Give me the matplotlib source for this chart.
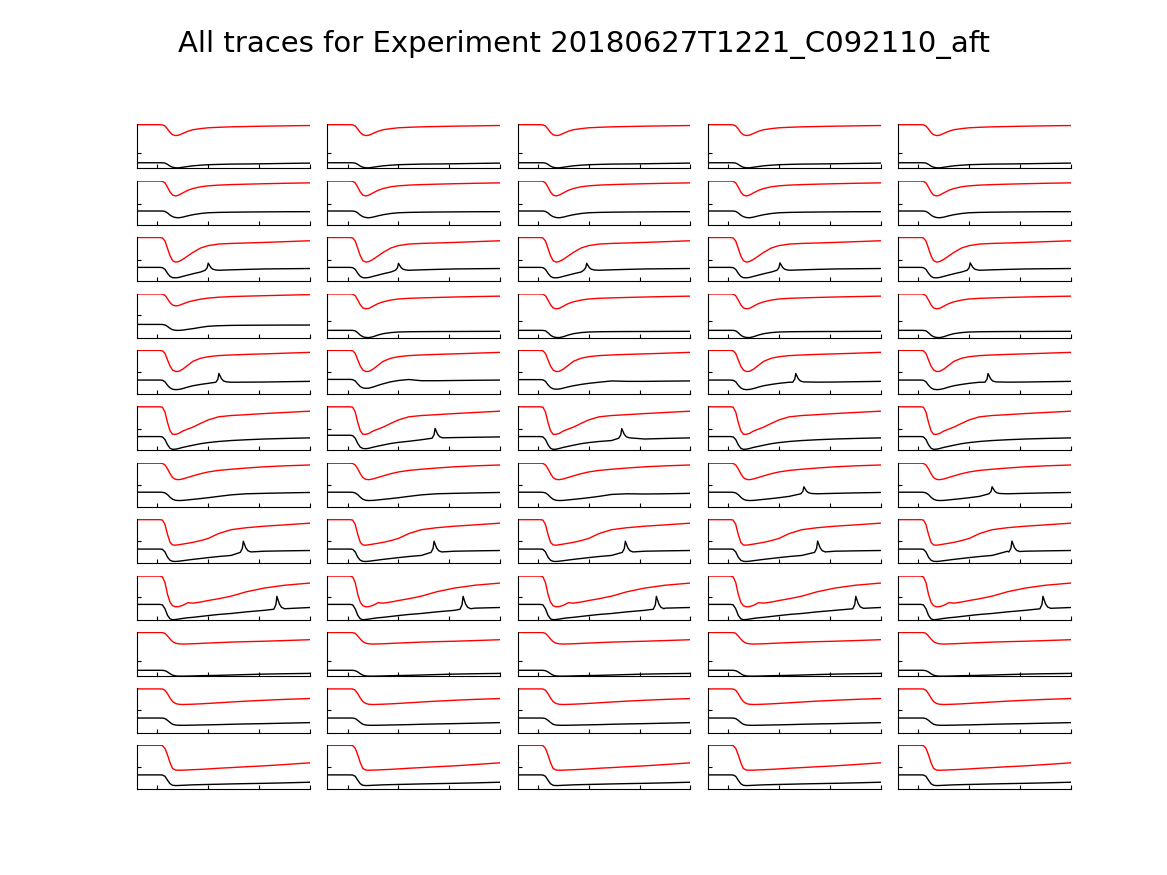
import matplotlib
matplotlib.use("Agg")
import matplotlib.pyplot as plt

TITLE = "All traces for Experiment 20180627T1221_C092110_aft"

# time axis (ms) shared by every base trace
X_MS = [-40, 5, 10, 15, 20, 25, 30, 36, 42, 50, 60, 70, 85, 100, 120, 145, 175, 210, 250, 300]

# per row: red (fluorescence) and black (second channel), normalised to the panel
RED = [
    [1.0, 1.0, 0.995, 0.97, 0.90, 0.82, 0.77, 0.75, 0.76, 0.80, 0.85, 0.885, 0.91, 0.929, 0.94, 0.951, 0.958, 0.966, 0.973, 0.981],
    [1.0, 1.0, 0.995, 0.96, 0.86, 0.75, 0.68, 0.66, 0.68, 0.73, 0.79, 0.83, 0.87, 0.892, 0.908, 0.92, 0.93, 0.94, 0.95, 0.96],
    [1.0, 1.0, 0.99, 0.92, 0.75, 0.58, 0.47, 0.436, 0.45, 0.50, 0.58, 0.66, 0.76, 0.815, 0.85, 0.865, 0.875, 0.888, 0.905, 0.926],
    [1.0, 1.0, 0.995, 0.97, 0.89, 0.80, 0.745, 0.727, 0.735, 0.77, 0.815, 0.845, 0.88, 0.905, 0.925, 0.94, 0.95, 0.96, 0.972, 0.985],
    [1.0, 1.0, 0.99, 0.93, 0.78, 0.64, 0.55, 0.515, 0.52, 0.57, 0.66, 0.75, 0.82, 0.855, 0.88, 0.895, 0.908, 0.92, 0.935, 0.955],
    [1.0, 1.0, 0.99, 0.88, 0.64, 0.45, 0.37, 0.37, 0.39, 0.445, 0.49, 0.535, 0.62, 0.70, 0.77, 0.80, 0.82, 0.845, 0.87, 0.90],
    [1.0, 1.0, 0.995, 0.96, 0.87, 0.76, 0.67, 0.63, 0.623, 0.64, 0.675, 0.71, 0.76, 0.80, 0.835, 0.862, 0.89, 0.918, 0.94, 0.96],
    [1.0, 1.0, 0.99, 0.89, 0.66, 0.48, 0.42, 0.415, 0.425, 0.44, 0.46, 0.48, 0.52, 0.57, 0.68, 0.77, 0.815, 0.85, 0.88, 0.92],
    [1.0, 1.0, 0.98, 0.85, 0.58, 0.40, 0.32, 0.296, 0.30, 0.33, 0.39, 0.38, 0.405, 0.44, 0.48, 0.54, 0.64, 0.725, 0.79, 0.84],
    [1.0, 1.0, 0.998, 0.98, 0.92, 0.85, 0.79, 0.755, 0.74, 0.735, 0.738, 0.742, 0.75, 0.758, 0.768, 0.78, 0.79, 0.80, 0.815, 0.835],
    [1.0, 1.0, 0.998, 0.97, 0.89, 0.79, 0.71, 0.665, 0.648, 0.643, 0.646, 0.65, 0.658, 0.668, 0.682, 0.70, 0.72, 0.74, 0.76, 0.78],
    [1.0, 1.0, 0.995, 0.93, 0.78, 0.60, 0.47, 0.432, 0.43, 0.432, 0.437, 0.442, 0.45, 0.46, 0.475, 0.49, 0.51, 0.53, 0.56, 0.60],
]
BLACK = [
    [0.128, 0.128, 0.127, 0.12, 0.09, 0.05, 0.025, 0.012, 0.012, 0.025, 0.042, 0.058, 0.072, 0.083, 0.09, 0.097, 0.10, 0.105, 0.112, 0.12],
    [0.315, 0.315, 0.314, 0.305, 0.27, 0.22, 0.185, 0.165, 0.16, 0.175, 0.205, 0.23, 0.258, 0.275, 0.283, 0.288, 0.292, 0.295, 0.298, 0.30],
    [0.316, 0.316, 0.31, 0.27, 0.18, 0.11, 0.08, 0.077, 0.085, 0.11, 0.14, 0.17, 0.21, 0.245, 0.25, 0.26, 0.27, 0.28, 0.285, 0.29],
    [0.302, 0.302, 0.30, 0.29, 0.255, 0.21, 0.18, 0.167, 0.165, 0.172, 0.19, 0.205, 0.235, 0.26, 0.272, 0.28, 0.283, 0.285, 0.287, 0.288],
    [0.32, 0.32, 0.315, 0.28, 0.20, 0.14, 0.11, 0.10, 0.105, 0.125, 0.16, 0.19, 0.22, 0.245, 0.27, 0.27, 0.272, 0.275, 0.282, 0.29],
    [0.318, 0.318, 0.31, 0.25, 0.13, 0.05, 0.025, 0.03, 0.045, 0.07, 0.095, 0.12, 0.155, 0.18, 0.205, 0.227, 0.245, 0.262, 0.275, 0.288],
    [0.336, 0.336, 0.333, 0.32, 0.28, 0.22, 0.175, 0.15, 0.145, 0.148, 0.16, 0.172, 0.19, 0.21, 0.24, 0.275, 0.30, 0.31, 0.32, 0.33],
    [0.326, 0.326, 0.32, 0.26, 0.14, 0.07, 0.045, 0.042, 0.048, 0.06, 0.075, 0.09, 0.11, 0.13, 0.155, 0.18, 0.275, 0.277, 0.285, 0.293],
    [0.351, 0.351, 0.34, 0.25, 0.10, 0.02, 0.0, 0.005, 0.015, 0.03, 0.045, 0.055, 0.075, 0.095, 0.12, 0.143, 0.18, 0.215, 0.265, 0.28],
    [0.134, 0.134, 0.133, 0.125, 0.095, 0.055, 0.022, 0.005, 0.0, 0.0, 0.002, 0.005, 0.01, 0.013, 0.018, 0.026, 0.036, 0.047, 0.055, 0.063],
    [0.333, 0.333, 0.332, 0.32, 0.28, 0.23, 0.19, 0.172, 0.167, 0.166, 0.168, 0.17, 0.174, 0.177, 0.182, 0.19, 0.198, 0.205, 0.215, 0.228],
    [0.323, 0.323, 0.32, 0.29, 0.20, 0.12, 0.085, 0.078, 0.08, 0.085, 0.09, 0.095, 0.10, 0.104, 0.109, 0.116, 0.123, 0.13, 0.14, 0.155],
]
Y_TICK = [0.35, 0.485, 0.49, 0.507, 0.511, 0.50, 0.50, 0.50, 0.52, 0.355, 0.507, 0.50]

# panels that differ from the row default: (row, col) -> trace
RED_ALT = {
    (3, 1): [1.0, 1.0, 0.995, 0.96, 0.86, 0.75, 0.68, 0.66, 0.67, 0.72, 0.78, 0.82, 0.86, 0.885, 0.90, 0.91, 0.92, 0.93, 0.94, 0.95],
}
BLACK_ALT = {
    (3, 1): [0.166, 0.166, 0.165, 0.155, 0.11, 0.055, 0.02, 0.003, 0.0, 0.02, 0.06, 0.09, 0.115, 0.128, 0.134, 0.137, 0.139, 0.14, 0.142, 0.144],
    (4, 1): [0.335, 0.335, 0.33, 0.30, 0.23, 0.17, 0.14, 0.13, 0.135, 0.16, 0.20, 0.235, 0.28, 0.31, 0.333, 0.305, 0.305, 0.31, 0.315, 0.32],
    (4, 2): [0.33, 0.33, 0.325, 0.29, 0.21, 0.15, 0.12, 0.11, 0.115, 0.135, 0.165, 0.19, 0.22, 0.245, 0.27, 0.30, 0.29, 0.29, 0.295, 0.30],
    (5, 1): [0.348, 0.348, 0.34, 0.28, 0.16, 0.075, 0.045, 0.04, 0.05, 0.075, 0.10, 0.125, 0.16, 0.185, 0.21, 0.245, 0.275, 0.295, 0.302, 0.31],
    (6, 2): [0.336, 0.336, 0.333, 0.32, 0.28, 0.22, 0.175, 0.15, 0.145, 0.148, 0.16, 0.172, 0.19, 0.21, 0.24, 0.285, 0.30, 0.295, 0.30, 0.31],
}
for c in (2, 3, 4):
    RED_ALT[(3, c)] = RED_ALT[(3, 1)]
    BLACK_ALT[(3, c)] = BLACK_ALT[(3, 1)]
Y_TICK_ALT = {(3, 1): 0.37, (3, 2): 0.37, (3, 3): 0.37, (3, 4): 0.37}

# spikes on the black trace: (row, col) -> (peak time ms, base level, peak level)
SPIKES = {
    (2, 0): (100, 0.25, 0.414), (2, 1): (100, 0.25, 0.41), (2, 2): (96, 0.25, 0.41),
    (2, 3): (102, 0.25, 0.42), (2, 4): (102, 0.25, 0.42),
    (4, 0): (121, 0.27, 0.473), (4, 3): (133, 0.27, 0.47), (4, 4): (137, 0.27, 0.47),
    (5, 1): (172, 0.28, 0.507), (5, 2): (165, 0.28, 0.50),
    (6, 3): (149, 0.30, 0.46), (6, 4): (145, 0.30, 0.46),
    (7, 0): (169, 0.25, 0.505), (7, 1): (170, 0.25, 0.505), (7, 2): (172, 0.25, 0.505),
    (7, 3): (176, 0.25, 0.51), (7, 4): (184, 0.26, 0.51),
    (8, 0): (235, 0.24, 0.536), (8, 1): (227, 0.24, 0.536), (8, 2): (233, 0.24, 0.536),
    (8, 3): (251, 0.25, 0.536), (8, 4): (245, 0.25, 0.536),
}
# spike shape: offset (ms) and fraction of height above base
SPIKE_DX = [-6, -2, 0, 2, 5, 9, 15]
SPIKE_FR = [0.0, 0.35, 1.0, 0.75, 0.4, 0.15, 0.04]

N_ROWS, N_COLS = 12, 5

fig, axes = plt.subplots(N_ROWS, N_COLS, figsize=(11.67, 8.75), dpi=100)
fig.subplots_adjust(left=0.1174, right=0.9177, top=0.858, bottom=0.0983,
                    wspace=0.1, hspace=0.28)

for r in range(N_ROWS):
    for c in range(N_COLS):
        ax = axes[r, c]
        red = RED_ALT.get((r, c), RED[r])
        blk = BLACK_ALT.get((r, c), BLACK[r])
        bx, by = list(X_MS), list(blk)
        if (r, c) in SPIKES:
            t, base, peak = SPIKES[(r, c)]
            keep = [i for i, x in enumerate(bx) if not (t + SPIKE_DX[0] <= x <= t + SPIKE_DX[-1])]
            pts = [(bx[i], by[i]) for i in keep]
            pts += [(t + dx, base + fr * (peak - base)) for dx, fr in zip(SPIKE_DX, SPIKE_FR)]
            pts.sort()
            bx = [p[0] for p in pts]
            by = [p[1] for p in pts]
        ax.plot(X_MS, red, color="red", linewidth=1.0)
        ax.plot(bx, by, color="black", linewidth=1.0)
        ax.set_xlim(-40, 300)
        ax.set_ylim(0, 1.01)
        ax.set_xticks([0, 100, 200, 300])
        ax.set_yticks([Y_TICK_ALT.get((r, c), Y_TICK[r])])
        ax.set_xticklabels([])
        ax.set_yticklabels([])
        ax.tick_params(direction="in", length=3, width=0.8)
        ax.spines["top"].set_visible(False)
        ax.spines["right"].set_visible(False)
        ax.spines["left"].set_linewidth(0.8)
        ax.spines["bottom"].set_linewidth(0.8)

fig.suptitle(TITLE, fontsize=21, y=0.966)
fig.savefig("out.png", dpi=100)
